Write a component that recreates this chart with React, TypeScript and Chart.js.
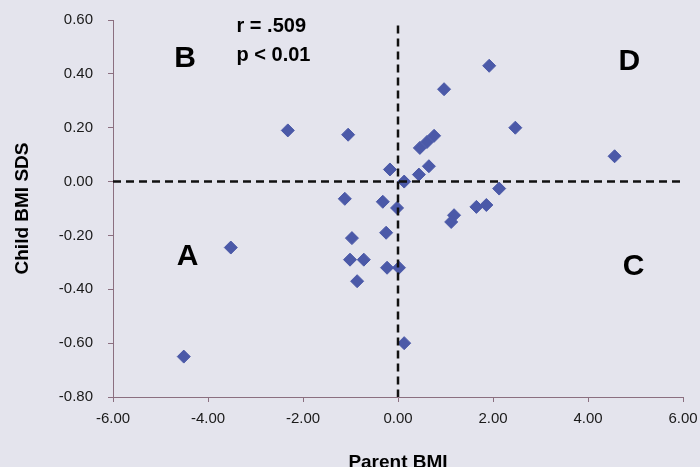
import React, { useEffect, useRef } from "react";
import { Chart, registerables } from "chart.js";

Chart.register(...registerables);

// Parent BMI (x) and Child BMI SDS (y) for each child
const parentBmi = [
  -4.51, -3.52, -2.32, -1.05, -1.12, -0.97, -1.01, -0.72, -0.86, -0.32,
  -0.25, -0.23, -0.17, -0.02, 0.02, 0.13, 0.13, 0.46, 0.61, 0.76,
  0.44, 0.65, 0.97, 1.92, 2.47, 4.56, 2.13, 1.65, 1.86, 1.18, 1.12,
];
const childBmiSds = [
  -0.65, -0.245, 0.19, 0.174, -0.064, -0.21, -0.29, -0.29, -0.37, -0.075,
  -0.19, -0.32, 0.045, -0.098, -0.32, -0.6, 0.0, 0.125, 0.147, 0.17,
  0.026, 0.057, 0.343, 0.43, 0.2, 0.094, -0.026, -0.094, -0.087, -0.125, -0.15,
];

// Reference (dashed) lines through zero
const hLineX = [-6, 6];
const hLineY = [0, 0];
const vLineX = [0, 0];
const vLineY = [0.58, -0.8];

// Quadrant labels and stats text
const quadLabels = ["A", "B", "C", "D"];
const quadX = [-4.43, -4.48, 4.96, 4.87];
const quadY = [-0.279, 0.458, -0.317, 0.445];
const statTexts = ["r = .509", "p < 0.01"];
const statX = [-3.4, -3.4];
const statY = [0.555, 0.449];

const xTitle = "Parent BMI";
const yTitle = "Child BMI SDS";

const BG = "#e4e4ed";
const AXIS = "#8b6f80";
const FONT = "'Liberation Sans', Arial, sans-serif";

export default function App() {
  const ref = useRef<HTMLCanvasElement | null>(null);

  useEffect(() => {
    if (!ref.current) return;
    const bgPlugin = {
      id: "bg",
      beforeDraw(chart: any) {
        const { ctx, width, height } = chart;
        ctx.save();
        ctx.fillStyle = BG;
        ctx.fillRect(0, 0, width, height);
        ctx.restore();
      },
    };
    const textPlugin = {
      id: "texts",
      afterDatasetsDraw(chart: any) {
        const { ctx, scales } = chart;
        const xs = scales.x;
        const ys = scales.y;
        ctx.save();
        ctx.fillStyle = "#000";
        ctx.font = `bold 30px ${FONT}`;
        ctx.textAlign = "center";
        ctx.textBaseline = "middle";
        quadLabels.forEach((t, i) => {
          ctx.fillText(t, xs.getPixelForValue(quadX[i]), ys.getPixelForValue(quadY[i]));
        });
        ctx.font = `bold 20px ${FONT}`;
        ctx.textAlign = "left";
        ctx.textBaseline = "alphabetic";
        statTexts.forEach((t, i) => {
          ctx.fillText(t, xs.getPixelForValue(statX[i]), ys.getPixelForValue(statY[i]));
        });
        ctx.restore();
      },
    };

    const chart = new Chart(ref.current, {
      type: "scatter",
      data: {
        datasets: [
          {
            label: "h",
            data: hLineX.map((x, i) => ({ x, y: hLineY[i] })),
            showLine: true,
            borderColor: "#111",
            borderWidth: 2.5,
            borderDash: [8, 5],
            pointRadius: 0,
          },
          {
            label: "v",
            data: vLineX.map((x, i) => ({ x, y: vLineY[i] })),
            showLine: true,
            borderColor: "#111",
            borderWidth: 2.5,
            borderDash: [8, 5],
            pointRadius: 0,
          },
          {
            label: "BMI",
            data: parentBmi.map((x, i) => ({ x, y: childBmiSds[i] })),
            pointStyle: "rectRot",
            pointRadius: 6.5,
            backgroundColor: "#4b59a8",
            borderColor: "#4b59a8",
            borderWidth: 1,
          },
        ],
      },
      options: {
        animation: false,
        responsive: false,
        maintainAspectRatio: false,
        layout: { padding: { top: 20, right: 17, left: 0, bottom: 0 } },
        plugins: { legend: { display: false }, tooltip: { enabled: false } },
        scales: {
          x: {
            type: "linear",
            min: -6,
            max: 6,
            afterFit(scale: any) {
              scale.height = 77;
              scale.paddingLeft = 0;
              scale.paddingRight = 0;
            },
            ticks: {
              stepSize: 2,
              autoSkip: false,
              maxRotation: 0,
              padding: 8,
              color: "#1a1a1a",
              font: { family: FONT, size: 15 },
              callback: (v: any) => (Math.abs(v) < 1e-9 ? "0.00" : Number(v).toFixed(2)),
            },
            grid: { drawOnChartArea: false, drawTicks: true, tickLength: 5, color: AXIS },
            border: { color: AXIS, width: 1 },
            title: {
              display: true,
              text: xTitle,
              color: "#000",
              font: { family: FONT, size: 19, weight: "bold" },
              padding: { top: 0, bottom: 0 },
            },
          },
          y: {
            type: "linear",
            min: -0.8,
            max: 0.6,
            afterFit(scale: any) {
              scale.width = 113;
              scale.paddingTop = 0;
              scale.paddingBottom = 0;
            },
            ticks: {
              stepSize: 0.2,
              autoSkip: false,
              padding: 15,
              color: "#1a1a1a",
              font: { family: FONT, size: 15 },
              callback: (v: any) => (Math.abs(v) < 1e-9 ? "0.00" : Number(v).toFixed(2)),
            },
            grid: { drawOnChartArea: false, drawTicks: true, tickLength: 5, color: AXIS },
            border: { color: AXIS, width: 1 },
            title: {
              display: true,
              text: yTitle,
              color: "#000",
              font: { family: FONT, size: 19, weight: "bold" },
              padding: { top: 11, bottom: 0 },
            },
          },
        },
      },
      plugins: [bgPlugin, textPlugin],
    });
    return () => chart.destroy();
  }, []);

  return (
    <div style={{ position: "fixed", left: 0, top: 0, width: 700, height: 474, background: BG }}>
      <canvas ref={ref} width={700} height={474} style={{ display: "block" }} />
    </div>
  );
}
